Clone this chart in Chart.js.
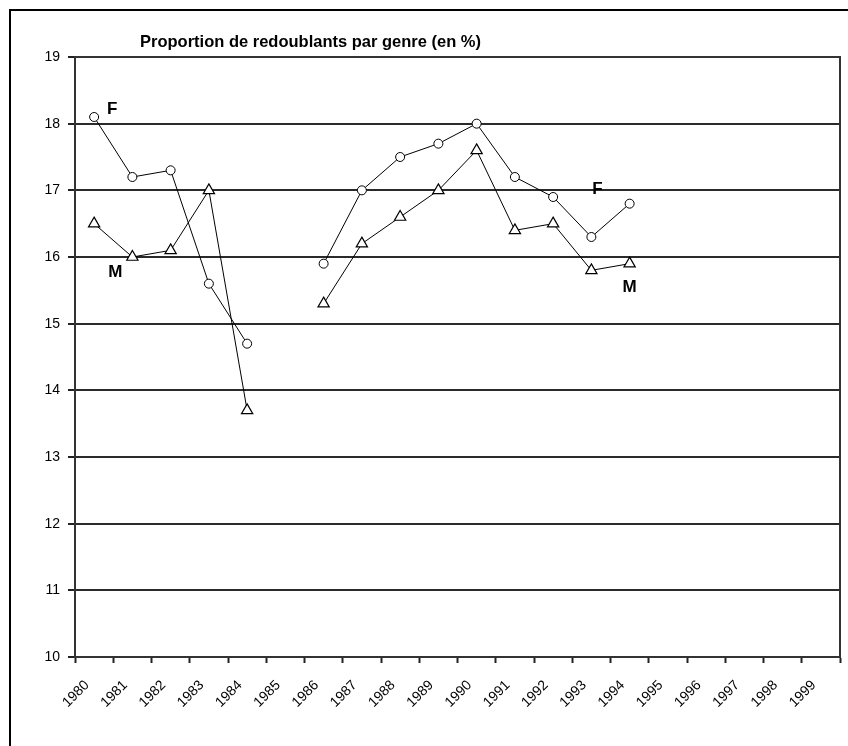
<!DOCTYPE html>
<html>
<head>
<meta charset="utf-8">
<script src="https://cdn.jsdelivr.net/npm/chart.js@4/dist/chart.umd.min.js"></script>
<style>
  html, body { margin: 0; padding: 0; background: #fff; }
  #wrap { width: 848px; height: 746px; position: relative; }
</style>
</head>
<body>
<div id="wrap"><canvas id="c" width="848" height="746"></canvas></div>
<script>
// années (catégories)
const years = ['1980', '1981', '1982', '1983', '1984', '1985', '1986', '1987', '1988', '1989',
               '1990', '1991', '1992', '1993', '1994', '1995', '1996', '1997', '1998', '1999'];

// proportion de redoublants, filles
const girls = [18.1, 17.2, 17.3, 15.6, 14.7, null, 15.9, 17.0, 17.5, 17.7,
               18.0, 17.2, 16.9, 16.3, 16.8, null, null, null, null, null];

// proportion de redoublants, garçons
const boys = [16.5, 16.0, 16.1, 17.0, 13.7, null, 15.3, 16.2, 16.6, 17.0,
              17.6, 16.4, 16.5, 15.8, 15.9, null, null, null, null, null];

const yTicks = [10, 11, 12, 13, 14, 15, 16, 17, 18, 19];

const FONT = "'Liberation Sans', Arial, sans-serif";

// frame, plot border, title and F / M labels
const decorations = {
    id: 'decorations',
    beforeDraw(chart) {
        const ctx = chart.ctx;
        ctx.save();
        ctx.strokeStyle = '#000';
        ctx.lineWidth = 2;
        ctx.beginPath();
        ctx.moveTo(10, chart.height);
        ctx.lineTo(10, 10);
        ctx.lineTo(chart.width, 10);
        ctx.stroke();
        ctx.restore();
    },
    afterDraw(chart, args, opts) {
        const ctx = chart.ctx;
        const area = chart.chartArea;
        ctx.save();
        ctx.strokeStyle = '#333';
        ctx.lineWidth = 2;
        ctx.strokeRect(area.left, area.top, area.right - area.left, area.bottom - area.top);

        ctx.fillStyle = '#000';
        ctx.font = 'bold 16.5px ' + FONT;
        ctx.textBaseline = 'alphabetic';
        ctx.textAlign = 'left';
        ctx.fillText(opts.title, area.left + 65, 47);

        ctx.textAlign = 'center';
        ctx.textBaseline = 'middle';
        ctx.font = 'bold 17px ' + FONT;
        for (const a of opts.labels) {
            const pt = chart.getDatasetMeta(a.series).data[a.index];
            ctx.fillText(a.text, pt.x + a.dx, pt.y + a.dy);
        }
        ctx.restore();
    }
};

new Chart(document.getElementById('c'), {
    type: 'line',
    data: {
        labels: years,
        datasets: [
            {
                label: 'F',
                data: girls,
                borderColor: '#000',
                borderWidth: 1,
                backgroundColor: '#fff',
                pointStyle: 'circle',
                pointRadius: 4.5,
                pointBorderColor: '#000',
                pointBackgroundColor: '#fff',
                pointBorderWidth: 1,
                tension: 0,
                spanGaps: false
            },
            {
                label: 'M',
                data: boys,
                borderColor: '#000',
                borderWidth: 1,
                backgroundColor: '#fff',
                pointStyle: 'triangle',
                pointRadius: 6.5,
                pointBorderColor: '#000',
                pointBackgroundColor: '#fff',
                pointBorderWidth: 1.2,
                tension: 0,
                spanGaps: false
            }
        ]
    },
    options: {
        responsive: false,
        animation: false,
        devicePixelRatio: 1,
        layout: { padding: { left: 0, top: 57, right: 8, bottom: 0 } },
        scales: {
            x: {
                offset: true,
                afterFit: scale => { scale.height = 89; },
                grid: {
                    offset: true,
                    drawOnChartArea: false,
                    drawTicks: true,
                    tickLength: 6,
                    tickWidth: 2,
                    tickColor: '#222'
                },
                border: { display: true, color: '#222', width: 2 },
                ticks: {
                    color: '#000',
                    minRotation: 45,
                    maxRotation: 45,
                    autoSkip: false,
                    padding: 14,
                    labelOffset: -7,
                    font: { family: FONT, size: 14 }
                }
            },
            y: {
                min: 10,
                max: 19,
                afterFit: scale => { scale.width = 75; },
                afterBuildTicks: scale => { scale.ticks = yTicks.map(v => ({ value: v })); },
                grid: {
                    color: '#2a2a2a',
                    lineWidth: 2,
                    drawTicks: true,
                    tickLength: 7,
                    tickColor: '#222'
                },
                border: { display: true, color: '#222', width: 2 },
                ticks: {
                    color: '#000',
                    padding: 8,
                    font: { family: FONT, size: 14 }
                }
            }
        },
        plugins: {
            legend: { display: false },
            tooltip: { enabled: false },
            title: { display: false },
            decorations: {
                title: 'Proportion de redoublants par genre (en %)',
                labels: [
                    { series: 0, index: 0, dx: 18, dy: -8, text: 'F' },
                    { series: 1, index: 1, dx: -17, dy: 15, text: 'M' },
                    { series: 0, index: 13, dx: 6, dy: -48, text: 'F' },
                    { series: 1, index: 14, dx: 0, dy: 24, text: 'M' }
                ]
            }
        }
    },
    plugins: [decorations]
});
</script>
</body>
</html>
